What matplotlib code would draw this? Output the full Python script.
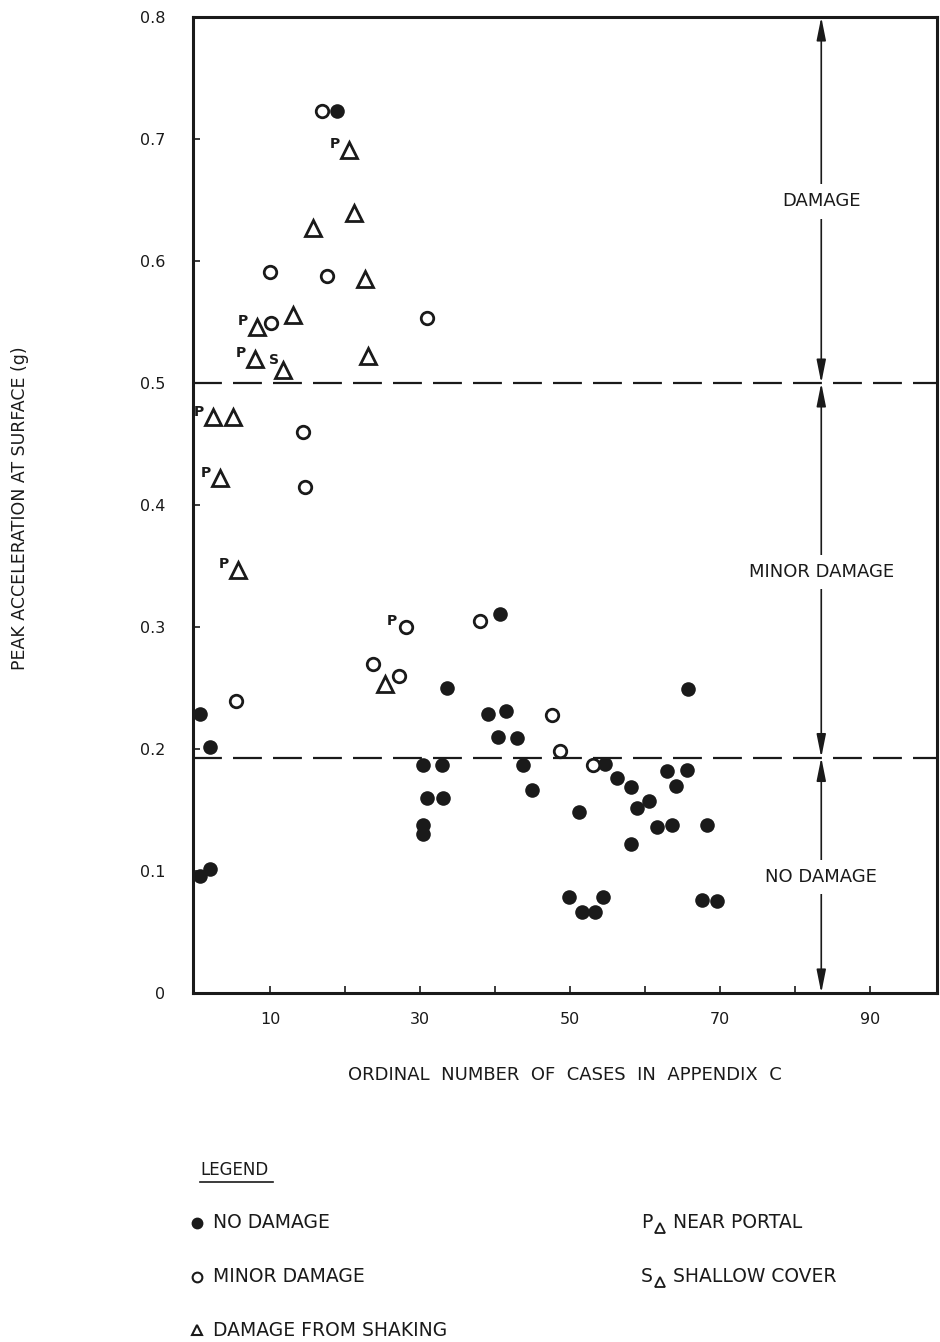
import matplotlib.pyplot as plt
from matplotlib.lines import Line2D

plt.rcParams['font.family'] = ['DejaVu Sans']

# cases with no damage (filled circles)
none_x = [18.9, 0.7, 2.0, 0.7, 2.0, 30.4, 32.9, 30.9, 33.1, 30.4, 30.4, 33.6,
          40.7, 39.1, 41.5, 40.4, 42.9, 43.7, 44.9, 54.7, 56.3, 58.1, 51.2,
          65.7, 62.9, 65.6, 64.1, 58.9, 60.5, 61.6, 63.6, 68.3, 58.1, 49.9,
          54.4, 51.6, 53.3, 67.6, 69.6]
none_y = [0.723, 0.229, 0.202, 0.096, 0.102, 0.187, 0.187, 0.160, 0.160, 0.138,
          0.130, 0.250, 0.311, 0.229, 0.231, 0.210, 0.209, 0.187, 0.166, 0.188,
          0.176, 0.169, 0.148, 0.249, 0.182, 0.183, 0.170, 0.152, 0.157, 0.136,
          0.138, 0.138, 0.122, 0.079, 0.079, 0.066, 0.066, 0.076, 0.075]

# cases with minor damage (open circles)
minor_x = [16.9, 10.0, 17.6, 10.1, 30.9, 14.4, 14.7, 28.1, 23.7, 27.2, 5.5,
           38.0, 47.6, 48.7, 53.1]
minor_y = [0.723, 0.591, 0.588, 0.549, 0.553, 0.460, 0.415, 0.300, 0.270,
           0.260, 0.239, 0.305, 0.228, 0.198, 0.187]
minor_tag = ['', '', '', '', '', '', '', 'P', '', '', '', '', '', '', '']

# damage from shaking (triangles); P = near portal, S = shallow cover
shake_x = [20.5, 21.2, 15.7, 22.7, 13.0, 8.3, 8.0, 11.7, 23.1, 2.4, 5.1, 3.3,
           5.7, 25.3]
shake_y = [0.691, 0.639, 0.627, 0.585, 0.556, 0.546, 0.520, 0.511, 0.522,
           0.472, 0.472, 0.422, 0.347, 0.253]
shake_tag = ['P', '', '', '', '', 'P', 'P', 'S', '', 'P', '', 'P', 'P', '']

# damage zone limits and labels
zone_edges = [0.0, 0.193, 0.5, 0.8]
zone_names = ['NO DAMAGE', 'MINOR DAMAGE', 'DAMAGE']
zone_label_y = [0.095, 0.345, 0.649]
zone_x = 83.5

x_ticks = [10, 20, 30, 40, 50, 60, 70, 80, 90]
x_tick_labels = ['10', '', '30', '', '50', '', '70', '', '90']
y_ticks = [0, 0.1, 0.2, 0.3, 0.4, 0.5, 0.6, 0.7, 0.8]
y_tick_labels = ['0', '0.1', '0.2', '0.3', '0.4', '0.5', '0.6', '0.7', '0.8']

INK = '#1a1a1a'
tag_offset = {'P': (-10, 4), 'S': (-6, 7)}

fig = plt.figure(figsize=(9.4, 13.42), dpi=100, facecolor='white')
ax = fig.add_axes([0.2053, 0.2601, 0.7915, 0.7272])

ax.plot(none_x, none_y, 'o', color=INK, markersize=10.5, markeredgewidth=0, zorder=4)
ax.plot(minor_x, minor_y, 'o', markerfacecolor='white', markeredgecolor=INK,
        markersize=9, markeredgewidth=2, zorder=5)
ax.plot(shake_x, shake_y, '^', markerfacecolor='white', markeredgecolor=INK,
        markersize=11, markeredgewidth=2, zorder=5)

# P / S letters sit up and to the left of their symbols
for xs, ys, tags in [(shake_x, shake_y, shake_tag), (minor_x, minor_y, minor_tag)]:
    for x, y, t in zip(xs, ys, tags):
        if t:
            ax.annotate(t, (x, y), textcoords='offset points', xytext=tag_offset[t],
                        ha='center', va='center', fontsize=10, fontweight='bold',
                        color=INK, zorder=6)

# dashed zone boundaries
for yb in zone_edges[1:3]:
    ax.axhline(yb, color=INK, linestyle=(0, (13, 5)), linewidth=1.6, zorder=2)

# double headed arrows between zone limits
for lo, hi in zip(zone_edges[:-1], zone_edges[1:]):
    ax.annotate('', xy=(zone_x, hi), xytext=(zone_x, lo),
                arrowprops=dict(arrowstyle='<|-|>,head_length=1.4,head_width=0.28',
                                color=INK, lw=1.2, shrinkA=0, shrinkB=0),
                zorder=3)
for name, yl in zip(zone_names, zone_label_y):
    ax.text(zone_x, yl, name, ha='center', va='center', fontsize=13, color=INK,
            bbox=dict(facecolor='white', edgecolor='none', pad=6), zorder=4)

ax.set_xlim(-0.27, 98.93)
ax.set_ylim(0, 0.8)
ax.set_xticks(x_ticks)
ax.set_xticklabels(x_tick_labels)
ax.set_yticks(y_ticks)
ax.set_yticklabels(y_tick_labels)
ax.tick_params(axis='both', direction='in', length=5, width=1.2, colors=INK,
               labelsize=11.5)
ax.tick_params(axis='x', pad=14)
ax.tick_params(axis='y', pad=20)
for side in ax.spines.values():
    side.set_linewidth(2.2)
    side.set_color(INK)

ax.set_xlabel('ORDINAL  NUMBER  OF  CASES  IN  APPENDIX  C', fontsize=13,
              labelpad=28, color=INK)
fig.text(0.021, 0.621, 'PEAK ACCELERATION AT SURFACE (g)', rotation=90,
         ha='center', va='center', fontsize=12.5, color=INK)

# legend block under the chart
fig.text(200 / 940, 1 - 1170 / 1342, 'LEGEND', ha='left', va='center', fontsize=12, color=INK)
fig.add_artist(Line2D([200 / 940, 273 / 940], [1 - 1182 / 1342] * 2, color=INK, lw=1.2,
                      transform=fig.transFigure))

rows = [1223, 1277, 1330]
left_items = [('o', INK, INK, 'NO DAMAGE'), ('o', 'white', INK, 'MINOR DAMAGE'),
              ('^', 'white', INK, 'DAMAGE FROM SHAKING')]
for (mk, fc, ec, label), r in zip(left_items, rows):
    yf = 1 - r / 1342
    fig.add_artist(Line2D([197 / 940], [yf], marker=mk, markersize=7,
                          markerfacecolor=fc, markeredgecolor=ec,
                          markeredgewidth=1.5, transform=fig.transFigure))
    fig.text(213 / 940, yf, label, ha='left', va='center', fontsize=13.5, color=INK)

for letter, label, r in [('P', 'NEAR PORTAL', rows[0]), ('S', 'SHALLOW COVER', rows[1])]:
    yf = 1 - r / 1342
    fig.text(641 / 940, yf, letter, ha='left', va='center', fontsize=13.5, color=INK)
    fig.add_artist(Line2D([660 / 940], [yf - 5 / 1342], marker='^', markersize=6.5,
                          markerfacecolor='white', markeredgecolor=INK,
                          markeredgewidth=1.3, transform=fig.transFigure))
    fig.text(673 / 940, yf, label, ha='left', va='center', fontsize=13.5, color=INK)

fig.savefig('out.png', dpi=100, facecolor='white')
